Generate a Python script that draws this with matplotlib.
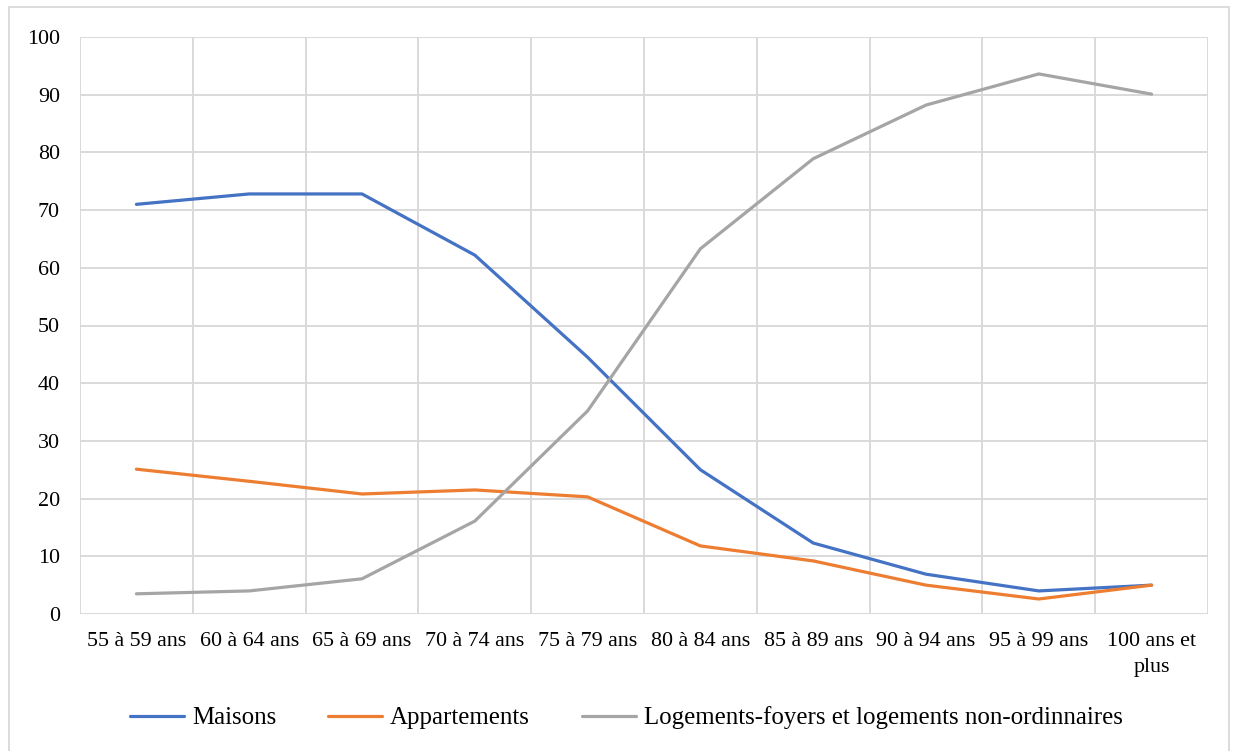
import matplotlib
matplotlib.use("Agg")
import matplotlib.pyplot as plt
from matplotlib.patches import Rectangle
import numpy as np

categories = ["55 à 59 ans", "60 à 64 ans", "65 à 69 ans", "70 à 74 ans", "75 à 79 ans",
              "80 à 84 ans", "85 à 89 ans", "90 à 94 ans", "95 à 99 ans", "100 ans et\nplus"]
maisons = [71.0, 72.8, 72.8, 62.2, 44.5, 25.0, 12.3, 6.9, 4.0, 5.0]
appartements = [25.1, 23.0, 20.8, 21.5, 20.3, 11.8, 9.2, 5.0, 2.6, 5.0]
foyers = [3.5, 4.0, 6.1, 16.1, 35.2, 63.3, 78.9, 88.2, 93.6, 90.1]
series_names = ["Maisons", "Appartements", "Logements-foyers et logements non-ordinnaires"]
yticks = [0, 10, 20, 30, 40, 50, 60, 70, 80, 90, 100]

plt.rcParams['font.family'] = ['Liberation Serif', 'DejaVu Serif']

W, H = 1233, 751
fig = plt.figure(figsize=(W / 100, H / 100), dpi=100)
ax = fig.add_axes([80 / W, 1 - 614 / H, (1208 - 80) / W, (614 - 37) / H])

grid_c = "#D9D9D9"
x = np.arange(len(categories))
colors = ["#4472C4", "#ED7D31", "#A5A5A5"]
for vals, name, c in zip([maisons, appartements, foyers], series_names, colors):
    ax.plot(x, vals, color=c, lw=2.3, label=name, solid_joinstyle='round', solid_capstyle='round', zorder=3)

ax.set_xlim(-0.5, len(categories) - 0.5)
ax.set_ylim(0, 100)
ax.set_yticks(yticks)
ax.set_xticks(x)
ax.set_xticklabels(categories, fontsize=15.8, linespacing=1.5)
ax.set_xticks(np.arange(-0.5, len(categories)), minor=True)
ax.tick_params(axis='both', which='both', length=0)
ax.tick_params(axis='x', which='major', pad=13)
ax.tick_params(axis='y', pad=14.5, labelsize=15.8)
ax.grid(True, axis='y', which='major', color=grid_c, lw=1.4, zorder=0)
ax.grid(True, axis='x', which='minor', color=grid_c, lw=1.4, zorder=0)
for s in ax.spines.values():
    s.set_visible(False)
ax.axhline(0, color=grid_c, lw=1.4, zorder=1)

fig.patches.append(Rectangle((9 / W, -0.02), (1229 - 9) / W, 1.02 - 7 / H, transform=fig.transFigure,
                             fill=False, edgecolor=grid_c, lw=1.3))

fig.legend(loc='center', bbox_to_anchor=(626.5 / W, 1 - 718 / H), ncol=3, frameon=False,
           fontsize=17.9, handlelength=2.15, handletextpad=0.33, columnspacing=2.1)

fig.savefig("out.png", dpi=100)
